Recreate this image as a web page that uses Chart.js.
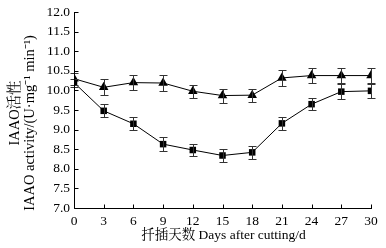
<!DOCTYPE html>
<html><head><meta charset="utf-8">
<script src="https://cdn.jsdelivr.net/npm/chart.js@4"></script>
<style>html,body{margin:0;padding:0;background:#fff}#w{width:386px;height:248px}</style>
</head><body><div id="w"><canvas id="c"></canvas></div>
<script>
const days = [0,3,6,9,12,15,18,21,24,27,30];
const triValues = [10.3,10.08,10.2,10.19,9.98,9.87,9.88,10.32,10.38,10.38,10.38];
const triErrors = [0.15,0.2,0.19,0.2,0.17,0.18,0.17,0.2,0.2,0.19,0.2];
const sqValues = [10.2,9.48,9.15,8.63,8.48,8.34,8.42,9.16,9.65,9.97,9.99];
const sqErrors = [0.1,0.17,0.17,0.17,0.16,0.17,0.17,0.17,0.16,0.2,0.18];
const xTicks = [0,3,6,9,12,15,18,21,24,27,30];
const yTicks = [7.0,7.5,8.0,8.5,9.0,9.5,10.0,10.5,11.0,11.5,12.0];
const yTitle = ['IAAO活性','IAAO activity/(U·mg⁻¹ min⁻¹)'];
const xTitle = '扦插天数 Days after cutting/d';
const FONT = '"Liberation Serif","Noto Serif CJK SC","Noto Sans CJK SC",serif';

const errPlugin = {
  id:'err',
  afterDatasetsDraw(chart){
    const ctx = chart.ctx, xs = chart.scales.x, ys = chart.scales.y;
    const sets = [[triValues,triErrors],[sqValues,sqErrors]];
    ctx.save(); ctx.strokeStyle='#333'; ctx.lineWidth=1;
    sets.forEach(([v,e])=>{
      v.forEach((val,i)=>{
        const x = Math.round(xs.getPixelForValue(days[i]))+0.5;
        const t = Math.round(ys.getPixelForValue(val+e[i]))+0.5;
        const b = Math.round(ys.getPixelForValue(val-e[i]))+0.5;
        ctx.beginPath();
        ctx.moveTo(x,t); ctx.lineTo(x,b);
        ctx.moveTo(x-4,t); ctx.lineTo(x+4,t);
        ctx.moveTo(x-4,b); ctx.lineTo(x+4,b);
        ctx.stroke();
      });
    });
    ctx.restore();
  }
};
const axisPlugin = {
  id:'axes',
  afterDraw(chart){
    const ctx = chart.ctx, xs = chart.scales.x, ys = chart.scales.y;
    const a = chart.chartArea;
    ctx.save(); ctx.strokeStyle='#000'; ctx.lineWidth=1;
    const L = Math.round(a.left)+0.5, B = Math.round(a.bottom)+0.5;
    ctx.beginPath();
    ctx.moveTo(L, Math.round(a.top)); ctx.lineTo(L,B); ctx.lineTo(Math.round(a.right)+1,B);
    yTicks.forEach(v=>{const y=Math.round(ys.getPixelForValue(v))+0.5; ctx.moveTo(L,y); ctx.lineTo(L+4,y);});
    xTicks.forEach(v=>{const x=Math.round(xs.getPixelForValue(v))+0.5; ctx.moveTo(x,B); ctx.lineTo(x,B-4);});
    ctx.stroke();
    ctx.fillStyle='#000';
    ctx.font = '13.5px '+FONT;
    ctx.textAlign='center'; ctx.textBaseline='middle';
    ctx.fillText(xTitle, (a.left+a.right)/2+1, 235);
    ctx.font = '14.5px '+FONT;
    ctx.save();
    ctx.translate(15,113); ctx.rotate(-Math.PI/2);
    ctx.fillText(yTitle[0],0,0);
    ctx.restore();
    ctx.save();
    ctx.translate(30,123); ctx.rotate(-Math.PI/2);
    ctx.fillText(yTitle[1],0,0);
    ctx.restore();
    ctx.restore();
  }
};

new Chart(document.getElementById('c'),{
  type:'line',
  data:{datasets:[
    {data:days.map((d,i)=>({x:d,y:triValues[i]})),borderColor:'#000',borderWidth:1,backgroundColor:'#000',
     pointStyle:'triangle',pointRadius:5.5,pointBorderWidth:0,tension:0},
    {data:days.map((d,i)=>({x:d,y:sqValues[i]})),borderColor:'#000',borderWidth:1,backgroundColor:'#000',
     pointStyle:'rect',pointRadius:4.6,pointBorderWidth:0,tension:0}
  ]},
  options:{
    responsive:true,maintainAspectRatio:false,animation:false,
    layout:{padding:{left:0,top:11,right:15,bottom:0}},
    plugins:{legend:{display:false},tooltip:{enabled:false}},
    scales:{
      x:{type:'linear',min:0,max:30,
        afterBuildTicks(s){s.ticks=xTicks.map(v=>({value:v}));},
        afterFit(s){s.height=40;},
        grid:{display:false,drawTicks:false},border:{display:false},
        ticks:{color:'#000',font:{family:FONT,size:13.5},padding:5,maxRotation:0,autoSkip:false}},
      y:{min:7,max:12,
        afterBuildTicks(s){s.ticks=yTicks.map(v=>({value:v}));},
        afterFit(s){s.width=74;},
        grid:{display:false,drawTicks:false},border:{display:false},
        ticks:{color:'#000',font:{family:FONT,size:13.5},padding:4,autoSkip:false,callback:v=>Number(v).toFixed(1)}}
    }
  },
  plugins:[errPlugin,axisPlugin]
});
</script></body></html>
